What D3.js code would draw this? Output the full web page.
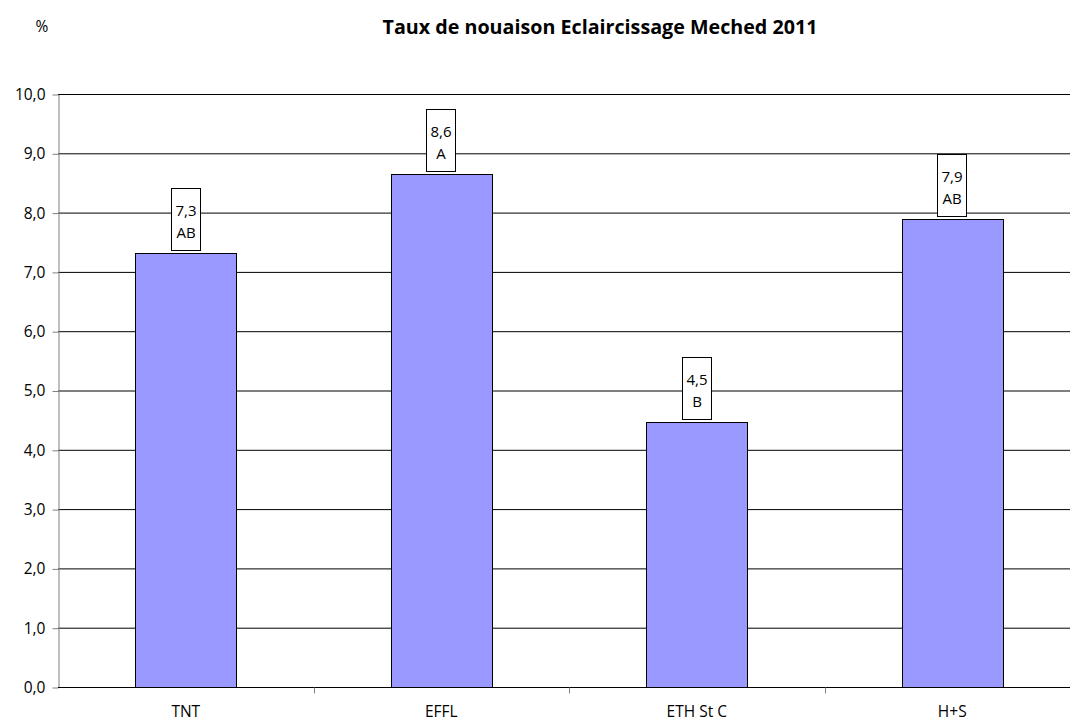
<!DOCTYPE html>
<html>
<head>
<meta charset="utf-8">
<script src="https://cdn.jsdelivr.net/npm/d3@7"></script>
<style>
  body { margin: 0; background: #fff; overflow: hidden; }
  text { font-family: "Open Sans", "Liberation Sans", sans-serif; }
</style>
</head>
<body>
<script>
var categories = ["TNT", "EFFL", "ETH St C", "H+S"];
var values = [7.32, 8.65, 4.47, 7.90];
var labels = ["7,3", "8,6", "4,5", "7,9"];
var groups = ["AB", "A", "B", "AB"];
var yTicks = [0, 1, 2, 3, 4, 5, 6, 7, 8, 9, 10];

var width = 1070, height = 722;
var margin = {top: 94, bottom: 35, left: 58};
var plotRight = 1080; // plot area runs past the window edge

var svg = d3.select("body").append("svg")
    .attr("width", width)
    .attr("height", height);

var x = d3.scaleBand()
    .domain(categories)
    .range([margin.left, plotRight]);

var barW = x.bandwidth() * 0.395;
var barX = function(d) { return x(d) + (x.bandwidth() - barW) / 2; };

var y = d3.scaleLinear()
    .domain([0, 10])
    .range([height - margin.bottom, margin.top]);

var fmt = function(d) { return d.toFixed(1).replace(".", ","); };

// gridlines
svg.append("g").selectAll("line")
    .data(yTicks.slice(1))
    .enter().append("line")
    .attr("x1", margin.left)
    .attr("x2", plotRight)
    .attr("y1", d => y(d) + 0.5)
    .attr("y2", d => y(d) + 0.5)
    .attr("stroke", "#000")
    .attr("stroke-width", 1);

// y axis
var yAxis = svg.append("g")
    .attr("transform", "translate(" + (margin.left + 0.5) + ",0.5)")
    .call(d3.axisLeft(y).tickValues(yTicks).tickFormat(fmt).tickSize(6).tickSizeOuter(0).tickPadding(7));
yAxis.select(".domain").attr("stroke", "#808080");
yAxis.selectAll(".tick line").attr("stroke", "#808080");
yAxis.selectAll("text").attr("font-size", 15.5).attr("fill", "#000")
    .attr("font-family", "'Open Sans', sans-serif");

// bars
svg.append("g").selectAll("rect")
    .data(categories)
    .enter().append("rect")
    .attr("x", d => Math.round(barX(d)) + 0.5)
    .attr("y", (d, i) => Math.round(y(values[i])) + 0.5)
    .attr("width", Math.round(barW))
    .attr("height", (d, i) => Math.round(y(0)) - Math.round(y(values[i])))
    .attr("fill", "#9999ff")
    .attr("stroke", "#000")
    .attr("stroke-width", 1);

// x axis
var xAxisG = svg.append("g")
    .attr("transform", "translate(0," + (y(0) + 0.5) + ")");
xAxisG.append("line")
    .attr("x1", margin.left)
    .attr("x2", plotRight)
    .attr("stroke", "#000");
xAxisG.selectAll(".sep")
    .data(categories.slice(1))
    .enter().append("line")
    .attr("class", "sep")
    .attr("x1", d => Math.round(x(d)) + 0.5)
    .attr("x2", d => Math.round(x(d)) + 0.5)
    .attr("y1", 0)
    .attr("y2", 6)
    .attr("stroke", "#808080");
xAxisG.selectAll("text")
    .data(categories)
    .enter().append("text")
    .attr("x", d => x(d) + x.bandwidth() / 2)
    .attr("y", 29.5)
    .attr("text-anchor", "middle")
    .attr("font-size", 15.5)
    .text(d => d);

// data labels
var lab = svg.append("g").selectAll("g")
    .data(categories)
    .enter().append("g")
    .attr("transform", (d, i) => "translate(" + Math.round(barX(d) + barW / 2) + "," + Math.round(y(values[i]) - 2) + ")");
lab.append("rect")
    .attr("x", -14.5)
    .attr("y", -62.5)
    .attr("width", 29)
    .attr("height", 62)
    .attr("fill", "#fff")
    .attr("stroke", "#000");
lab.append("text")
    .attr("y", -35)
    .attr("text-anchor", "middle")
    .attr("font-size", 15)
    .text((d, i) => labels[i]);
lab.append("text")
    .attr("y", -13)
    .attr("text-anchor", "middle")
    .attr("font-size", 15)
    .text((d, i) => groups[i]);

// titles
svg.append("text")
    .attr("x", 600)
    .attr("y", 34)
    .attr("text-anchor", "middle")
    .attr("font-size", 19.7)
    .attr("font-weight", "bold")
    .text("Taux de nouaison Eclaircissage Meched 2011");
svg.append("text")
    .attr("x", 42)
    .attr("y", 32)
    .attr("text-anchor", "middle")
    .attr("font-size", 15.5)
    .text("%");
</script>
</body>
</html>
